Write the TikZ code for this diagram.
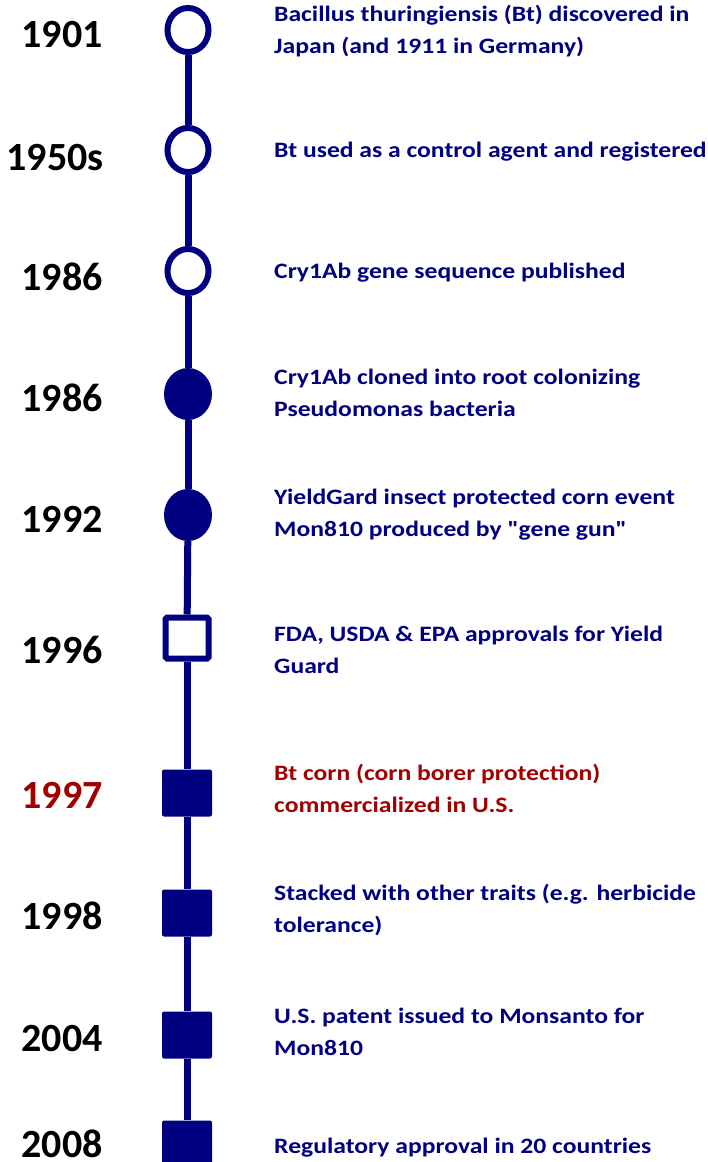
\documentclass[tikz,border=0pt]{standalone}
\usepackage{fontspec}
\setmainfont{Carlito}
\newfontfamily\descfont{Carlito}[FakeStretch=1.165]
\usetikzlibrary{shapes.geometric}
\definecolor{navy}{RGB}{0,0,128}
\definecolor{dred}{RGB}{160,0,0}
\tikzset{
  opencirc/.style={ellipse, draw=navy, line width=6pt, fill=white, minimum width=41pt, minimum height=44pt, inner sep=0pt},
  fullcirc/.style={ellipse, fill=navy, minimum width=48pt, minimum height=52pt, inner sep=0pt},
  opensq/.style={rectangle, draw=navy, line width=6pt, fill=white, minimum width=43pt, minimum height=41pt, inner sep=0pt, rounded corners=1.5pt},
  fullsq/.style={rectangle, fill=navy, minimum width=50pt, minimum height=47pt, inner sep=0pt, rounded corners=2pt},
  year/.style={anchor=base, inner sep=0pt, font=\fontsize{40}{44}\selectfont\bfseries},
  desc/.style={anchor=base west, inner sep=0pt, align=left, text=navy, font=\descfont\fontsize{22}{32.5}\selectfont\bfseries},
  link/.style={draw=navy, line width=7pt}
}
\begin{document}
\begin{tikzpicture}[x=1pt,y=-1pt]
\useasboundingbox (0,0) rectangle (707,1162);
% markers
\node[opencirc] (m1) at (188,30) {};
\node[opencirc] (m2) at (188,150) {};
\node[opencirc] (m3) at (188,271) {};
\node[fullcirc] (m4) at (188,394) {};
\node[fullcirc] (m5) at (188,515) {};
\node[opensq] (m6) at (187,638) {};
\node[fullsq] (m7) at (187,793) {};
\node[fullsq] (m8) at (187,913) {};
\node[fullsq] (m9) at (187,1035) {};
\node[fullsq] (m10) at (187,1144) {};
% connectors
\path[link] (m1) -- (m2);
\path[link] (m2) -- (m3);
\path[link] (m3) -- (m4);
\path[link] (m4) -- (m5);
\path[link] (m5) -- (m6);
\path[link] (m6) -- (m7);
\path[link] (m7) -- (m8);
\path[link] (m8) -- (m9);
\path[link] (m9) -- (m10);
% years
\node[year] (y1) at (62,47) {1901};
\node[year] (y2) at (55,170) {1950s};
\node[year] (y3) at (62,290) {1986};
\node[year] (y4) at (62,411) {1986};
\node[year] (y5) at (62,532) {1992};
\node[year] (y6) at (62,663) {1996};
\node[year, text=dred] (y7) at (62,808) {1997};
\node[year] (y8) at (62,929) {1998};
\node[year] (y9) at (62,1051) {2004};
\node[year] (y10) at (62,1157) {2008};
% descriptions (anchor is the baseline of the last line)
\node[desc] (d1) at (274,53.5) {Bacillus thuringiensis (Bt) discovered in\\Japan (and 1911 in Germany)};
\node[desc] (d2) at (274,157) {Bt used as a control agent and registered};
\node[desc] (d3) at (274,278) {Cry1Ab gene sequence published};
\node[desc] (d4) at (274,416.5) {Cry1Ab cloned into root colonizing\\Pseudomonas bacteria};
\node[desc] (d5) at (274,536.5) {YieldGard insect protected corn event\\Mon810 produced by {\char34}gene gun{\char34}};
\node[desc] (d6) at (274,673.5) {FDA, USDA \& EPA approvals for Yield\\Guard};
\node[desc, text=dred] (d7) at (274,812.5) {Bt corn (corn borer protection)\\commercialized in U.S.};
\node[desc] (d8) at (274,932.5) {Stacked with other traits (e.g. herbicide\\tolerance)};
\node[desc] (d9) at (274,1055.5) {U.S. patent issued to Monsanto for\\Mon810};
\node[desc] (d10) at (274,1153) {Regulatory approval in 20 countries};
\end{tikzpicture}
\end{document}
